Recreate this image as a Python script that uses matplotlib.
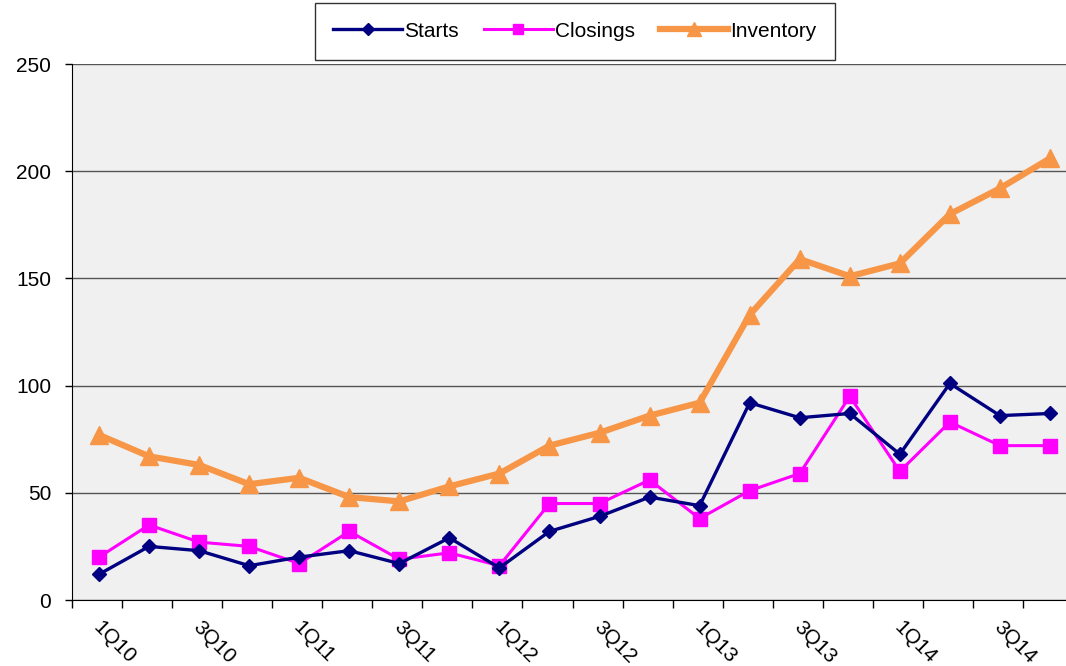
import matplotlib
matplotlib.use("Agg")
import matplotlib.pyplot as plt

quarters = ["1Q10","2Q10","3Q10","4Q10","1Q11","2Q11","3Q11","4Q11","1Q12","2Q12",
            "3Q12","4Q12","1Q13","2Q13","3Q13","4Q13","1Q14","2Q14","3Q14","4Q14"]
starts = [12, 25, 23, 16, 20, 23, 17, 29, 15, 32, 39, 48, 44, 92, 85, 87, 68, 101, 86, 87]
closings = [20, 35, 27, 25, 17, 32, 19, 22, 16, 45, 45, 56, 38, 51, 59, 95, 60, 83, 72, 72]
inventory = [77, 67, 63, 54, 57, 48, 46, 53, 59, 72, 78, 86, 92, 133, 159, 151, 157, 180, 192, 206]
yticks = [0, 50, 100, 150, 200, 250]

plt.rcParams['font.family'] = ['Liberation Sans', 'DejaVu Sans']

fig = plt.figure(figsize=(10.66, 6.66), dpi=100)
ax = fig.add_axes([72/1066, 1-600/666, 1-72/1066, (600-64)/666])
ax.set_facecolor('#F0F0F0')

x = list(range(len(quarters)))
ax.plot(x, starts, color='#000080', lw=2.4, marker='D', ms=7.5, label='Starts', zorder=4)
ax.plot(x, closings, color='#FF00FF', lw=2.2, marker='s', ms=10, label='Closings', zorder=3)
ax.plot(x, inventory, color='#F79646', lw=4.5, marker='^', ms=13, label='Inventory', zorder=2)

ax.set_xlim(-0.54, 19.32)
ax.set_ylim(0, 250)
ax.set_yticks(yticks)
ax.set_yticklabels([str(v) for v in yticks], fontsize=15)
ax.yaxis.grid(True, color='#555555', lw=1.0)
ax.set_axisbelow(True)
ax.tick_params(axis='y', length=5, width=1, color='black', pad=10)

ax.set_xticks([i - 0.54 for i in range(len(quarters))])
ax.set_xticklabels([])
ax.tick_params(axis='x', length=6, width=1, color='black', direction='out')
for i, q in enumerate(quarters):
    if i % 2 == 0:
        ax.text(i + 0.08, -8, q, rotation=-45, ha='left', va='top', fontsize=15,
                rotation_mode='anchor', transform=ax.transData, clip_on=False)

for s in ['top', 'right']:
    ax.spines[s].set_visible(False)
ax.spines['left'].set_color('black')
ax.spines['bottom'].set_color('black')

leg = fig.legend(loc='upper center', bbox_to_anchor=(575/1066, 1-3/666), ncol=3, fontsize=15,
                 frameon=True, fancybox=False, edgecolor='black', handlelength=3.3,
                 columnspacing=1.2, borderpad=0.9, borderaxespad=0.0,
                 handletextpad=0.1, markerscale=0.75)
leg.get_frame().set_linewidth(1.0)

fig.savefig('out.png', dpi=100)
